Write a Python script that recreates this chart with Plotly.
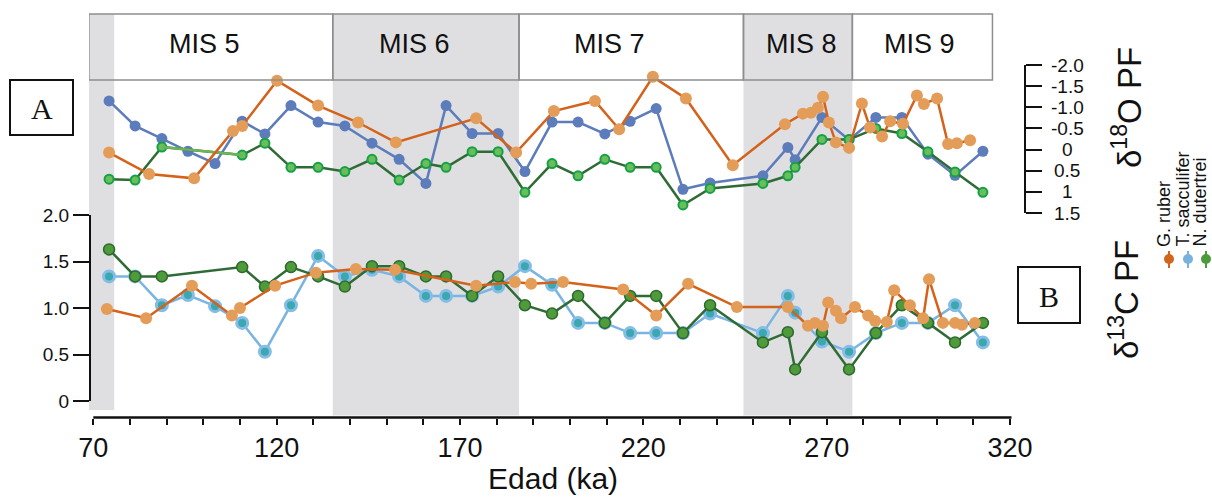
import plotly.graph_objects as go

W, H = 1212, 498

# ---------------- data ----------------
# T. sacculifer samples (ka)
age_sacc = [74.3, 81.4, 88.7, 95.8, 103.2, 110.6, 116.8, 123.9, 131.3, 138.6,
            146.0, 153.4, 160.7, 166.2, 173.3, 180.4, 187.7, 195.1, 202.2, 209.5,
            216.4, 223.5, 230.8, 238.2, 252.6, 259.4, 261.4, 268.7, 276.1, 283.4,
            290.5, 297.6, 305.0, 312.6]
d18o_sacc = [-1.15, -0.56, -0.26, 0.04, 0.33, -0.67, -0.37, -1.04, -0.65, -0.56,
             -0.15, 0.23, 0.80, -1.04, -0.38, -0.38, 0.52, -0.65, -0.65, -0.37,
             -0.67, -0.97, 0.94, 0.79, 0.62, -0.05, 0.24, -0.76, -0.23, -0.76,
             -0.76, 0.11, 0.61, 0.04]
d13c_sacc = [1.34, 1.34, 1.03, 1.14, 1.02, 0.84, 0.53, 1.03, 1.56, 1.34,
             1.41, 1.34, 1.13, 1.13, 1.13, 1.23, 1.45, 1.25, 0.84, 0.84,
             0.73, 0.73, 0.73, 0.94, 0.73, 1.13, 0.95, 0.64, 0.53, 0.73,
             0.84, 0.84, 1.03, 0.63]

# N. dutertrei samples (ka)
age_dut = [74.3, 81.4, 88.7, 110.6, 116.8, 123.9, 131.3, 138.6, 146.0, 153.4,
           160.7, 166.2, 173.3, 180.4, 187.7, 195.1, 202.2, 209.5, 216.4, 223.5,
           230.8, 238.2, 252.6, 259.4, 261.4, 268.7, 276.1, 283.4, 290.5, 297.6,
           305.0, 312.6]
d18o_dut = [0.70, 0.72, -0.06, 0.13, -0.15, 0.42, 0.42, 0.52, 0.23, 0.72,
            0.33, 0.42, 0.05, 0.05, 1.01, 0.33, 0.62, 0.23, 0.42, 0.42,
            1.31, 0.92, 0.80, 0.62, 0.42, -0.24, -0.24, -0.50, -0.38, 0.05,
            0.53, 1.01]
d13c_dut = [1.63, 1.34, 1.34, 1.44, 1.23, 1.44, 1.34, 1.23, 1.45, 1.45,
            1.34, 1.34, 1.13, 1.34, 1.03, 0.94, 1.13, 0.84, 1.13, 1.13,
            0.73, 1.03, 0.63, 0.74, 0.34, 0.74, 0.34, 0.73, 1.03, 0.84,
            0.63, 0.84]
gap_idx = [2, 3]  # interval without intermediate N. dutertrei samples

# G. ruber samples (ka)
age_rub_o = [74.3, 85.2, 97.5, 108.1, 110.6, 120.1, 131.3, 142.2, 152.5, 174.4,
             185.3, 195.6, 206.8, 213.4, 222.6, 231.6, 244.4, 258.6, 263.5, 265.7,
             267.6, 269.0, 270.6, 272.5, 276.1, 279.6, 281.8, 285.1, 287.3, 290.8,
             294.6, 296.5, 300.1, 303.1, 305.5, 309.1]
d18o_rub = [0.07, 0.58, 0.68, -0.44, -0.56, -1.63, -1.04, -0.64, -0.17, -0.74,
            0.07, -0.91, -1.15, -0.48, -1.72, -1.21, 0.37, -0.60, -0.85, -0.87,
            -0.99, -1.25, -0.64, -0.17, -0.04, -1.09, -0.52, -0.31, -0.67, -0.61,
            -1.28, -1.08, -1.21, -0.13, -0.15, -0.22]
age_rub_c = [73.7, 84.4, 96.9, 107.8, 110.0, 119.6, 130.7, 141.6, 152.3, 174.4,
             185.0, 189.4, 198.1, 214.5, 223.5, 232.2, 245.5, 259.4, 264.9, 266.8,
             269.0, 270.4, 272.5, 273.9, 277.7, 281.3, 283.2, 286.4, 288.4, 292.7,
             296.3, 297.9, 301.7, 305.0, 306.9, 310.4]
d13c_rub = [0.99, 0.89, 1.24, 0.92, 1.00, 1.24, 1.38, 1.42, 1.41, 1.24,
            1.28, 1.26, 1.28, 1.20, 0.92, 1.26, 1.01, 1.01, 0.81, 0.84,
            0.81, 1.06, 0.97, 0.89, 1.01, 0.92, 0.86, 0.85, 1.19, 1.03,
            0.89, 1.31, 0.84, 0.84, 0.82, 0.84]

# Marine isotope stages
mis_labels = ["MIS 5", "MIS 6", "MIS 7", "MIS 8", "MIS 9"]
mis_bounds = [68.8, 135.3, 186.1, 247.3, 277.0, 315.2]
mis_label_x = [100.3, 157.6, 210.9, 263.1, 295.4]
mis_shaded = [False, True, False, True, False]
extra_band = [68.8, 75.7]

x_ticks = [70, 120, 170, 220, 270, 320]
d13c_ticks = [0, 0.5, 1.0, 1.5, 2.0]
d13c_ticktext = ["0", "0.5", "1.0", "1.5", "2.0"]
d18o_ticks = [-2.0, -1.5, -1.0, -0.5, 0, 0.5, 1, 1.5]
d18o_ticktext = ["-2.0", "-1.5", "-1.0", "-0.5", "0", "0.5", "1", "1.5"]

species = ["G. ruber", "T. sacculifer", "N. dutertrei"]
species_colors = ["#d2651c", "#7ab2de", "#4b9a3c"]

# ---------------- styling ----------------
C_RUB_LINE, C_RUB_MK = "#d4621a", "#e49d58"
C_SAC_O = "#5c7cbb"
C_SAC_C_LINE, C_SAC_C_MK, C_SAC_C_IN = "#7ab4e2", "#85bde6", "#3ba7ae"
C_DUT_LINE = "#2f6b34"
C_DUT_O_MK, C_DUT_O_IN = "#14a146", "#69bd5b"
C_DUT_C_MK, C_DUT_C_EDGE = "#4f9b3c", "#2c6a2c"
BAND = "#dfdfe2"
SANS = "Liberation Sans, Arial, sans-serif"
NARROW = "Liberation Sans Narrow, Arial Narrow, Liberation Sans, Arial, sans-serif"


def py(p):
    return 1 - p / H


def px(p):
    return p / W


fig = go.Figure()

# delta 13C panel (lower, axis y)
fig.add_trace(go.Scatter(x=age_sacc, y=d13c_sacc, mode="lines+markers", xaxis="x", yaxis="y",
                         line=dict(color=C_SAC_C_LINE, width=2.5),
                         marker=dict(size=11, color=C_SAC_C_IN, line=dict(color=C_SAC_C_MK, width=3)),
                         showlegend=False))
fig.add_trace(go.Scatter(x=age_dut, y=d13c_dut, mode="lines+markers", xaxis="x", yaxis="y",
                         line=dict(color=C_DUT_LINE, width=2.5),
                         marker=dict(size=11, color=C_DUT_C_MK, line=dict(color=C_DUT_C_EDGE, width=1.5)),
                         showlegend=False))
fig.add_trace(go.Scatter(x=age_rub_c, y=d13c_rub, mode="lines+markers", xaxis="x", yaxis="y",
                         line=dict(color=C_RUB_LINE, width=2.5),
                         marker=dict(size=12, color=C_RUB_MK),
                         showlegend=False))

# delta 18O panel (upper, axis y2)
fig.add_trace(go.Scatter(x=age_sacc, y=d18o_sacc, mode="lines+markers", xaxis="x", yaxis="y2",
                         line=dict(color=C_SAC_O, width=2.5),
                         marker=dict(size=11, color=C_SAC_O),
                         showlegend=False))
fig.add_trace(go.Scatter(x=age_dut, y=d18o_dut, mode="lines+markers", xaxis="x", yaxis="y2",
                         line=dict(color=C_DUT_LINE, width=2.5),
                         marker=dict(size=9, color=C_DUT_O_IN, line=dict(color=C_DUT_O_MK, width=2)),
                         showlegend=False))
fig.add_trace(go.Scatter(x=[age_dut[i] for i in gap_idx], y=[d18o_dut[i] for i in gap_idx],
                         mode="lines", xaxis="x", yaxis="y2",
                         line=dict(color="#6cb456", width=2.5), showlegend=False))
fig.add_trace(go.Scatter(x=age_rub_o, y=d18o_rub, mode="lines+markers", xaxis="x", yaxis="y2",
                         line=dict(color=C_RUB_LINE, width=2.5),
                         marker=dict(size=12, color=C_RUB_MK),
                         showlegend=False))

shapes = []
# shaded stages (header + plot), drawn beneath the data
for i in range(len(mis_labels)):
    if mis_shaded[i]:
        shapes.append(dict(type="rect", xref="x", yref="paper", x0=mis_bounds[i], x1=mis_bounds[i + 1],
                           y0=py(415.5), y1=py(14), fillcolor=BAND, line=dict(width=0), layer="below"))
shapes.append(dict(type="rect", xref="x", yref="paper", x0=extra_band[0], x1=extra_band[1],
                   y0=py(410), y1=py(14), fillcolor=BAND, line=dict(width=0), layer="below"))
# header boxes
for i in range(len(mis_labels)):
    shapes.append(dict(type="rect", xref="x", yref="paper", x0=mis_bounds[i], x1=mis_bounds[i + 1],
                       y0=py(80), y1=py(14), line=dict(color="#8e8e8e", width=1.5), layer="above"))
# bottom axis line
shapes.append(dict(type="line", xref="x", yref="paper", x0=x_ticks[0], x1=x_ticks[-1] + 0.4,
                   y0=py(417.5), y1=py(417.5), line=dict(color="#111111", width=2.5)))
# panel boxes A and B
shapes.append(dict(type="rect", xref="paper", yref="paper", x0=px(10), x1=px(73), y0=py(135), y1=py(80),
                   line=dict(color="#111111", width=2)))
shapes.append(dict(type="rect", xref="paper", yref="paper", x0=px(1018), x1=px(1080), y0=py(323), y1=py(267),
                   line=dict(color="#111111", width=2)))

annotations = []
for lab, xc in zip(mis_labels, mis_label_x):
    annotations.append(dict(x=xc, y=py(44), xref="x", yref="paper", text=lab, showarrow=False,
                            font=dict(family=NARROW, size=27, color="#111111"),
                            xanchor="center", yanchor="middle"))
for v, t in zip(d18o_ticks, d18o_ticktext):
    annotations.append(dict(x=px(1067), y=v, xref="paper", yref="y2", text=t, showarrow=False,
                            font=dict(family=SANS, size=19, color="#111111"),
                            xanchor="center", yanchor="middle"))
annotations.append(dict(x=px(1127), y=py(108), xref="paper", yref="paper",
                        text="δ<sup>18</sup>O PF", textangle=-90, showarrow=False,
                        font=dict(family=SANS, size=33, color="#111111"),
                        xanchor="center", yanchor="middle"))
annotations.append(dict(x=px(1124), y=py(300), xref="paper", yref="paper",
                        text="δ<sup>13</sup>C PF", textangle=-90, showarrow=False,
                        font=dict(family=SANS, size=33, color="#111111"),
                        xanchor="center", yanchor="middle"))
annotations.append(dict(x=px(41.5), y=py(108), xref="paper", yref="paper", text="A", showarrow=False,
                        font=dict(family="Liberation Serif, Times New Roman, serif", size=30, color="#111111"),
                        xanchor="center", yanchor="middle"))
annotations.append(dict(x=px(1049), y=py(296), xref="paper", yref="paper", text="B", showarrow=False,
                        font=dict(family="Liberation Serif, Times New Roman, serif", size=30, color="#111111"),
                        xanchor="center", yanchor="middle"))
annotations.append(dict(x=px(553), y=py(478), xref="paper", yref="paper", text="Edad (ka)", showarrow=False,
                        font=dict(family=SANS, size=30, color="#111111"),
                        xanchor="center", yanchor="middle"))

# rotated species key
leg_x = [1169, 1188, 1206]
leg_text_x = [1164, 1182, 1199]
for name, col, lx, tx in zip(species, species_colors, leg_x, leg_text_x):
    annotations.append(dict(x=px(tx), y=py(249), xref="paper", yref="paper", text=name,
                            textangle=-90, showarrow=False,
                            font=dict(family=SANS, size=18, color="#111111"),
                            xanchor="center", yanchor="bottom"))
    shapes.append(dict(type="line", xref="paper", yref="paper", x0=px(lx), x1=px(lx),
                       y0=py(251), y1=py(268), line=dict(color=col, width=2)))
    shapes.append(dict(type="circle", xref="paper", yref="paper", x0=px(lx - 5), x1=px(lx + 5),
                       y0=py(264), y1=py(254), fillcolor=col, line=dict(color=col, width=0)))

# x range chosen so that 70 ka sits at 93.3 px and 10 ka spans 36.67 px
x_left_px, x_right_px = 89, 1012
ka_per_px = 10 / 36.67
x_range = [70 + (x_left_px - 93.3) * ka_per_px, 70 + (x_right_px - 93.3) * ka_per_px]

fig.update_layout(
    width=W, height=H,
    margin=dict(l=0, r=0, t=0, b=0, autoexpand=False),
    paper_bgcolor="white", plot_bgcolor="rgba(0,0,0,0)",
    showlegend=False,
    shapes=shapes,
    annotations=annotations,
    xaxis=dict(domain=[px(x_left_px), px(x_right_px)], range=x_range, automargin=False,
               anchor="free", position=py(417.5),
               showgrid=False, zeroline=False, showline=False,
               tickvals=x_ticks, ticktext=[str(t) for t in x_ticks],
               ticks="outside", ticklen=6, tickwidth=2, tickcolor="#111111",
               minor=dict(dtick=10, tick0=70, ticks="outside", ticklen=6, tickwidth=2,
                          tickcolor="#111111", showgrid=False),
               tickfont=dict(family=SANS, size=27, color="#111111")),
    yaxis=dict(domain=[py(401), py(215)], range=[0, 2.0], automargin=False,
               anchor="free", position=px(90), side="left",
               showgrid=False, zeroline=False, showline=True, linecolor="#111111", linewidth=2,
               tickvals=d13c_ticks, ticktext=d13c_ticktext,
               ticks="outside", ticklen=16, tickwidth=2, tickcolor="#111111",
               tickfont=dict(family=SANS, size=19, color="#111111")),
    yaxis2=dict(domain=[py(213), py(65)], range=[1.5, -2.0], automargin=False,
                anchor="free", position=px(1025), side="right",
                showgrid=False, zeroline=False, showline=True, linecolor="#111111", linewidth=2,
                tickvals=d18o_ticks, showticklabels=False,
                ticks="outside", ticklen=16, tickwidth=2, tickcolor="#111111"),
)

fig.write_html("out.html")
